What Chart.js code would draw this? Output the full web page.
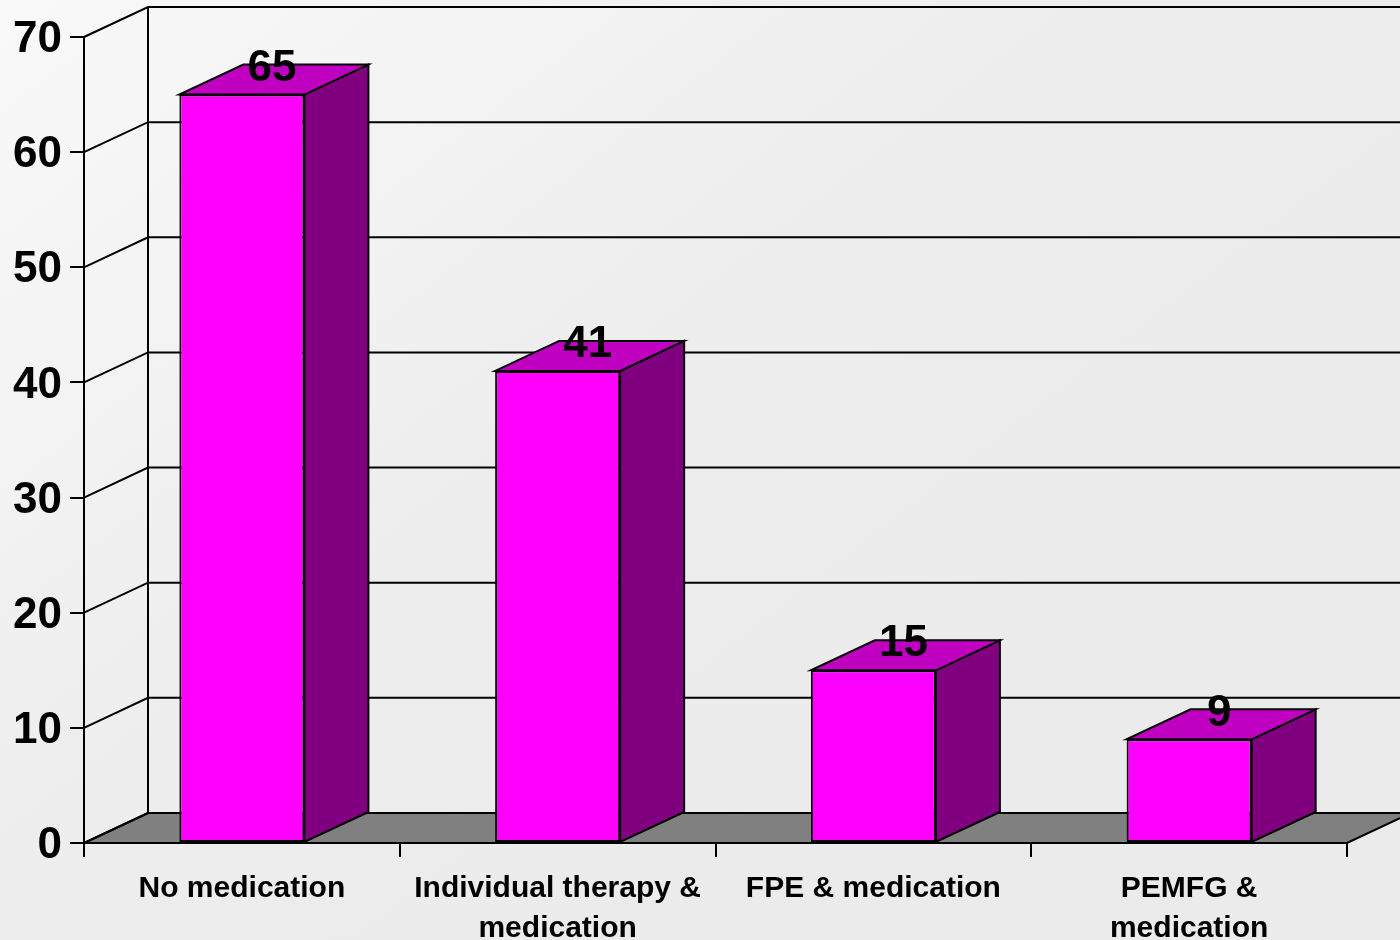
<!DOCTYPE html>
<html>
<head>
<meta charset="utf-8">
<title>Patients by treatment group</title>
<script src="https://cdn.jsdelivr.net/npm/chart.js@4.4.1/dist/chart.umd.min.js"></script>
<style>
  html, body { margin: 0; padding: 0; background: #ececec; }
  #wrap { width: 1400px; height: 940px; position: relative; overflow: hidden; }
  canvas { display: block; }
</style>
</head>
<body>
<div id="wrap"><canvas id="chart" width="1400" height="940"></canvas></div>
<script>
// Treatment groups and their values
const categories = [
  'No medication',
  ['Individual therapy &', 'medication'],
  'FPE & medication',
  ['PEMFG &', 'medication']
];
const groupValues = [65, 41, 15, 9];
const yTickValues = [0, 10, 20, 30, 40, 50, 60, 70];

// Depth of the 3-D box (horizontal / vertical shift of the back plane)
const DEPTH_X = 64;
const DEPTH_Y = -30;

const LINE = '#000000';
const FRONT = '#ff00ff';
const SIDE = '#800080';
const TOP = '#c000c0';
const FLOOR = '#808080';

function poly(ctx, pts, fill) {
  ctx.beginPath();
  ctx.moveTo(pts[0][0], pts[0][1]);
  for (let i = 1; i < pts.length; i++) ctx.lineTo(pts[i][0], pts[i][1]);
  ctx.closePath();
  if (fill) { ctx.fillStyle = fill; ctx.fill(); }
  ctx.stroke();
}

// Soft backdrop across the whole canvas
const backdrop = {
  id: 'backdrop',
  beforeDraw(chart) {
    const ctx = chart.ctx;
    const g = ctx.createLinearGradient(0, 0, 700, 900);
    g.addColorStop(0, '#f9f9fa');
    g.addColorStop(0.55, '#eeeeee');
    g.addColorStop(1, '#ebebeb');
    ctx.save();
    ctx.fillStyle = g;
    ctx.fillRect(0, 0, chart.width, chart.height);
    ctx.restore();
  }
};

// Floor, back wall gridlines and side wall lines behind the bars
const walls = {
  id: 'walls',
  beforeDatasetsDraw(chart) {
    const ctx = chart.ctx;
    const area = chart.chartArea;
    const y = chart.scales.y;
    const y0 = y.getPixelForValue(0);
    ctx.save();
    ctx.strokeStyle = LINE;
    ctx.lineWidth = 2;
    ctx.lineJoin = 'miter';
    // floor
    poly(ctx, [
      [area.left, y0],
      [area.right, y0],
      [area.right + DEPTH_X, y0 + DEPTH_Y],
      [area.left + DEPTH_X, y0 + DEPTH_Y]
    ], FLOOR);
    // back wall left edge
    const yTop = y.getPixelForValue(yTickValues[yTickValues.length - 1]);
    ctx.beginPath();
    ctx.moveTo(area.left + DEPTH_X, yTop + DEPTH_Y);
    ctx.lineTo(area.left + DEPTH_X, y0 + DEPTH_Y);
    ctx.stroke();
    // gridlines on the back wall and the left wall
    yTickValues.forEach(v => {
      const py = y.getPixelForValue(v);
      ctx.beginPath();
      ctx.moveTo(area.left, py);
      ctx.lineTo(area.left + DEPTH_X, py + DEPTH_Y);
      if (v !== 0) ctx.lineTo(area.right + DEPTH_X, py + DEPTH_Y);
      ctx.stroke();
    });
    ctx.restore();
  },
  // side and top faces of each bar, plus the value labels
  afterDatasetsDraw(chart) {
    const ctx = chart.ctx;
    const meta = chart.getDatasetMeta(0);
    const data = chart.data.datasets[0].data;
    ctx.save();
    ctx.strokeStyle = LINE;
    ctx.lineWidth = 2;
    ctx.lineJoin = 'miter';
    meta.data.forEach((bar, i) => {
      const p = bar.getProps(['x', 'y', 'base', 'width'], true);
      const left = p.x - p.width / 2;
      const right = p.x + p.width / 2;
      poly(ctx, [
        [right, p.y],
        [right + DEPTH_X, p.y + DEPTH_Y],
        [right + DEPTH_X, p.base + DEPTH_Y],
        [right, p.base]
      ], SIDE);
      poly(ctx, [
        [left, p.y],
        [right, p.y],
        [right + DEPTH_X, p.y + DEPTH_Y],
        [left + DEPTH_X, p.y + DEPTH_Y]
      ], TOP);
      ctx.fillStyle = '#000';
      ctx.font = 'bold 44px "Liberation Sans", Arial, sans-serif';
      ctx.textAlign = 'center';
      ctx.textBaseline = 'middle';
      ctx.fillText(String(data[i]), p.x + DEPTH_X / 2 - 2, p.y - 26);
    });
    ctx.restore();
  }
};

new Chart(document.getElementById('chart'), {
  type: 'bar',
  data: {
    labels: categories,
    datasets: [{
      data: groupValues,
      backgroundColor: FRONT,
      borderColor: LINE,
      borderWidth: 2,
      borderSkipped: false,
      categoryPercentage: 1,
      barPercentage: 0.396
    }]
  },
  options: {
    responsive: false,
    animation: false,
    devicePixelRatio: 1,
    layout: { padding: { top: 37, right: 53, left: 0, bottom: 0 } },
    plugins: { legend: { display: false }, tooltip: { enabled: false } },
    scales: {
      x: {
        grid: { display: true, drawOnChartArea: false, offset: true, tickLength: 14, color: LINE, lineWidth: 2 },
        border: { display: true, color: LINE, width: 2 },
        ticks: {
          color: '#000',
          padding: 12,
          maxRotation: 0,
          autoSkip: false,
          font: { family: '"Liberation Sans", Arial, sans-serif', size: 30, weight: 'bold', lineHeight: 1.32 }
        },
        afterFit(scale) { scale.height = 97; }
      },
      y: {
        min: 0,
        max: 70,
        afterBuildTicks(scale) { scale.ticks = yTickValues.map(v => ({ value: v })); },
        grid: { display: true, drawOnChartArea: false, tickLength: 14, color: LINE, lineWidth: 2 },
        border: { display: true, color: LINE, width: 2 },
        ticks: {
          color: '#000',
          padding: 8,
          labelOffset: 3,
          font: { family: '"Liberation Sans", Arial, sans-serif', size: 44, weight: 'bold' }
        },
        afterFit(scale) { scale.width = 84; }
      }
    }
  },
  plugins: [backdrop, walls]
});
</script>
</body>
</html>
